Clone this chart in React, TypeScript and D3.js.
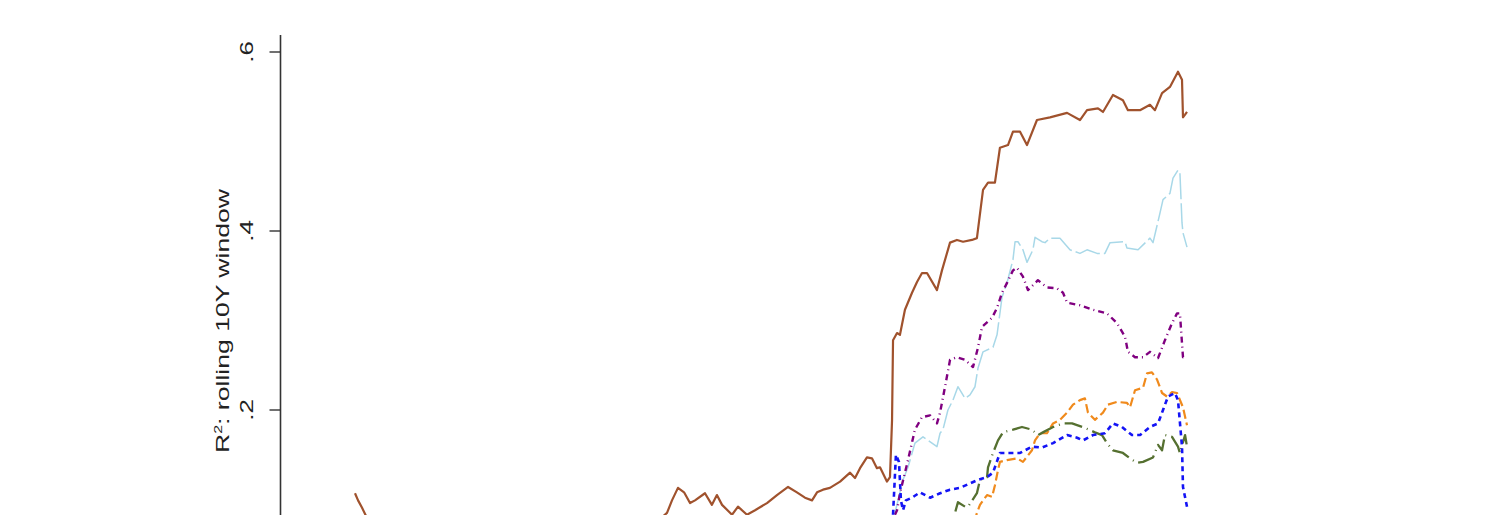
import React from "react";
import * as d3 from "d3";

type Pt = [number, number];

// y-axis ticks
const yTicks: number[] = [0.2, 0.4, 0.6];
const yTickLabels: string[] = [".2", ".4", ".6"];

// Series: [year, R^2]
const brown: Pt[] = [
  [1960.0, 0.107], [1960.22, 0.099], [1960.5, 0.091], [1960.94, 0.077],
  [1961.5, 0.07], [1963, 0.06], [1965, 0.055], [1967, 0.05], [1969, 0.06],
  [1971, 0.055], [1973, 0.045], [1975, 0.05], [1977, 0.06], [1979, 0.055], [1981, 0.065],
  [1982.5, 0.085], [1982.86, 0.099], [1983.29, 0.113], [1983.73, 0.108], [1984.16, 0.096],
  [1984.52, 0.099], [1985.24, 0.107], [1985.74, 0.094], [1986.1, 0.105], [1986.47, 0.094],
  [1987.19, 0.083], [1987.62, 0.092], [1988.27, 0.083], [1988.85, 0.088], [1989.71, 0.096],
  [1990.43, 0.105], [1991.23, 0.114], [1991.87, 0.108], [1992.45, 0.102], [1992.96, 0.099],
  [1993.32, 0.108], [1993.75, 0.111], [1994.25, 0.113], [1994.98, 0.12], [1995.7, 0.13],
  [1996.06, 0.124], [1996.42, 0.135], [1996.92, 0.147], [1997.28, 0.146], [1997.64, 0.135],
  [1997.86, 0.136], [1998.36, 0.12], [1998.58, 0.125], [1998.73, 0.189], [1998.8, 0.278],
  [1999.09, 0.286], [1999.3, 0.284], [1999.66, 0.312], [2000.17, 0.331], [2000.53, 0.343],
  [2000.89, 0.353], [2001.25, 0.353], [2001.97, 0.334], [2002.33, 0.356], [2002.91, 0.387],
  [2003.41, 0.39], [2003.85, 0.388], [2004.49, 0.39], [2004.85, 0.392], [2005.29, 0.446],
  [2005.65, 0.454], [2006.15, 0.454], [2006.51, 0.493], [2007.09, 0.496], [2007.45, 0.511],
  [2007.96, 0.511], [2008.46, 0.496], [2009.18, 0.524], [2010.12, 0.527], [2011.35, 0.532],
  [2012.28, 0.524], [2012.79, 0.535], [2013.58, 0.537], [2013.94, 0.533], [2014.66, 0.552],
  [2015.38, 0.546], [2015.74, 0.535], [2016.61, 0.535], [2017.33, 0.541], [2017.69, 0.535],
  [2018.2, 0.554], [2018.77, 0.561], [2019.35, 0.578], [2019.64, 0.569], [2019.71, 0.527],
  [2019.86, 0.53], [2020.0, 0.533],
];

const lightBlue: Pt[] = [
  [1998.94, 0.085], [1999.52, 0.122], [1999.88, 0.136], [2000.38, 0.163], [2000.96, 0.17],
  [2001.32, 0.166], [2001.97, 0.159], [2002.19, 0.174], [2002.4, 0.178], [2002.76, 0.2],
  [2003.12, 0.211], [2003.48, 0.226], [2003.99, 0.213], [2004.35, 0.217], [2004.71, 0.226],
  [2004.93, 0.247], [2005.29, 0.265], [2006.01, 0.27], [2006.3, 0.284], [2006.66, 0.326],
  [2007.02, 0.342], [2007.45, 0.368], [2007.6, 0.388], [2007.81, 0.388], [2008.17, 0.379],
  [2008.46, 0.365], [2008.89, 0.379], [2009.04, 0.393], [2009.54, 0.388], [2009.76, 0.387],
  [2010.12, 0.392], [2010.84, 0.392], [2011.56, 0.379], [2012.28, 0.375], [2012.79, 0.379],
  [2013.51, 0.375], [2014.08, 0.375], [2014.45, 0.387], [2015.53, 0.388], [2015.67, 0.381],
  [2016.47, 0.379], [2017.33, 0.392], [2017.55, 0.387], [2018.05, 0.42], [2018.27, 0.435],
  [2018.77, 0.442], [2018.99, 0.459], [2019.35, 0.468], [2019.49, 0.465], [2019.64, 0.409],
  [2019.71, 0.398], [2020.0, 0.382],
];

const purple: Pt[] = [
  [1998.94, 0.083], [1999.09, 0.088], [1999.3, 0.107], [1999.88, 0.144], [2000.38, 0.178],
  [2000.89, 0.192], [2001.47, 0.194], [2001.97, 0.185], [2002.19, 0.197], [2002.55, 0.226],
  [2002.91, 0.256], [2003.41, 0.259], [2003.99, 0.256], [2004.57, 0.248], [2004.93, 0.27],
  [2005.22, 0.293], [2005.58, 0.298], [2005.94, 0.303], [2006.3, 0.314], [2006.66, 0.331],
  [2007.02, 0.342], [2007.45, 0.356], [2007.74, 0.359], [2008.17, 0.349], [2008.53, 0.334],
  [2009.25, 0.345], [2009.9, 0.337], [2010.62, 0.336], [2011.06, 0.331], [2011.35, 0.32],
  [2012.28, 0.317], [2013.22, 0.312], [2014.23, 0.308], [2014.95, 0.297], [2015.53, 0.282],
  [2015.74, 0.265], [2016.25, 0.259], [2016.83, 0.259], [2017.33, 0.265], [2017.91, 0.258],
  [2018.41, 0.278], [2018.92, 0.297], [2019.28, 0.308], [2019.49, 0.308], [2019.71, 0.259],
  [2020.0, 0.259],
];

const orange: Pt[] = [
  [1998.8, 0.03], [2000, 0.04], [2001.5, 0.05], [2003, 0.06], [2004.3, 0.07],
  [2004.71, 0.077], [2004.85, 0.085], [2005.07, 0.094], [2005.58, 0.105], [2005.94, 0.103],
  [2006.15, 0.116], [2006.37, 0.133], [2006.51, 0.142], [2007.02, 0.144], [2007.74, 0.146],
  [2008.17, 0.142], [2008.82, 0.155], [2009.04, 0.166], [2009.4, 0.174], [2009.9, 0.174],
  [2010.34, 0.185], [2010.84, 0.189], [2011.35, 0.197], [2011.78, 0.206], [2012.28, 0.211],
  [2012.64, 0.213], [2012.86, 0.197], [2013.36, 0.189], [2013.94, 0.197], [2014.3, 0.206],
  [2014.95, 0.209], [2015.67, 0.208], [2015.89, 0.203], [2016.25, 0.222], [2016.83, 0.225],
  [2017.12, 0.241], [2017.47, 0.242], [2017.84, 0.234], [2018.2, 0.219], [2018.56, 0.215],
  [2018.92, 0.22], [2019.28, 0.219], [2019.71, 0.203], [2020.0, 0.183],
];

const green: Pt[] = [
  [1998.8, 0.02], [2000.5, 0.04], [2002, 0.06], [2002.91, 0.077], [2003.27, 0.085],
  [2003.48, 0.097], [2003.99, 0.092], [2004.21, 0.092], [2004.85, 0.107], [2005.07, 0.122],
  [2005.58, 0.125], [2005.65, 0.136], [2006.01, 0.152], [2006.37, 0.166], [2006.73, 0.175],
  [2007.45, 0.178], [2008.1, 0.181], [2008.82, 0.178], [2009.25, 0.172], [2009.61, 0.175],
  [2010.34, 0.181], [2011.06, 0.185], [2011.71, 0.185], [2012.64, 0.18], [2013.36, 0.175],
  [2013.87, 0.172], [2014.23, 0.163], [2014.66, 0.155], [2015.38, 0.152], [2015.89, 0.146],
  [2016.39, 0.141], [2016.83, 0.142], [2017.55, 0.147], [2017.91, 0.161], [2018.2, 0.155],
  [2018.41, 0.172], [2018.92, 0.17], [2019.35, 0.159], [2019.49, 0.152], [2019.86, 0.172],
  [2020.0, 0.159],
];

const blue: Pt[] = [
  [1998.8, 0.083], [1999.01, 0.15], [1999.23, 0.142], [1999.37, 0.099], [1999.52, 0.088],
  [1999.73, 0.099], [2000.17, 0.102], [2000.74, 0.108], [2001.47, 0.102], [2002.19, 0.107],
  [2002.91, 0.111], [2003.63, 0.113], [2004.35, 0.118], [2004.93, 0.122], [2005.58, 0.125],
  [2006.01, 0.13], [2006.51, 0.152], [2007.09, 0.152], [2007.96, 0.152], [2008.82, 0.159],
  [2009.54, 0.158], [2010.34, 0.163], [2011.35, 0.172], [2012.07, 0.169], [2012.5, 0.166],
  [2013.22, 0.172], [2014.08, 0.174], [2014.66, 0.185], [2015.31, 0.181], [2016.03, 0.172],
  [2016.61, 0.172], [2017.33, 0.181], [2017.91, 0.185], [2018.27, 0.2], [2018.63, 0.215],
  [2019.13, 0.219], [2019.35, 0.211], [2019.64, 0.159], [2019.71, 0.114], [2020.0, 0.092],
];

const seriesList = [
  { name: "brown", data: brown, color: "#A0522D", width: 2.2, dash: "" },
  { name: "lightblue", data: lightBlue, color: "#A8D8E8", width: 1.5, dash: "26,4" },
  { name: "purple", data: purple, color: "#800080", width: 2.4, dash: "6,4,1,4" },
  { name: "orange", data: orange, color: "#F08A1C", width: 2.2, dash: "9,4" },
  { name: "green", data: green, color: "#557030", width: 2.3, dash: "18,5,1,5" },
  { name: "blue", data: blue, color: "#1414F5", width: 2.6, dash: "5,4" },
];

export default function App() {
  const W = 1500;
  const H = 515;
  const x = d3.scaleLinear().domain([1960, 2020]).range([355, 1187]);
  const y = d3.scaleLinear().domain([0, 0.6]).range([589, 52]);
  const line = d3
    .line<Pt>()
    .x((d) => x(d[0]))
    .y((d) => y(d[1]));
  const axisX = 280.5;
  const font = "'Liberation Sans', Arial, Helvetica, sans-serif";

  return (
    <div style={{ position: "absolute", left: 0, top: 0 }}>
      <svg width={W} height={H} style={{ display: "block", background: "#fff" }}>
        <rect x={0} y={0} width={W} height={H} fill="#fff" />
        {/* y axis */}
        <line x1={axisX} x2={axisX} y1={35} y2={H + 20} stroke="#333" strokeWidth={1.6} />
        {yTicks.map((t, i) => (
          <g key={t}>
            <line x1={axisX - 11} x2={axisX} y1={y(t)} y2={y(t)} stroke="#333" strokeWidth={1.4} />
            <text
              transform={`translate(253,${y(t)}) scale(0.68,1) rotate(-90)`}
              textAnchor="middle"
              fontFamily={font}
              fontSize={26}
              fill="#222"
            >
              {yTickLabels[i]}
            </text>
          </g>
        ))}
        <text
          transform={`translate(229,321) scale(0.68,1) rotate(-90)`}
          textAnchor="middle"
          fontFamily={font}
          fontSize={26.6}
          fill="#222"
        >
          R<tspan fontSize={16} dy={-10}>2</tspan>
          <tspan dy={10}>: rolling 10Y window</tspan>
        </text>
        {/* series */}
        {seriesList.map((s) => (
          <path
            key={s.name}
            d={line(s.data) || ""}
            fill="none"
            stroke={s.color}
            strokeWidth={s.width}
            strokeDasharray={s.dash || undefined}
            strokeLinejoin="round"
          />
        ))}
      </svg>
    </div>
  );
}
